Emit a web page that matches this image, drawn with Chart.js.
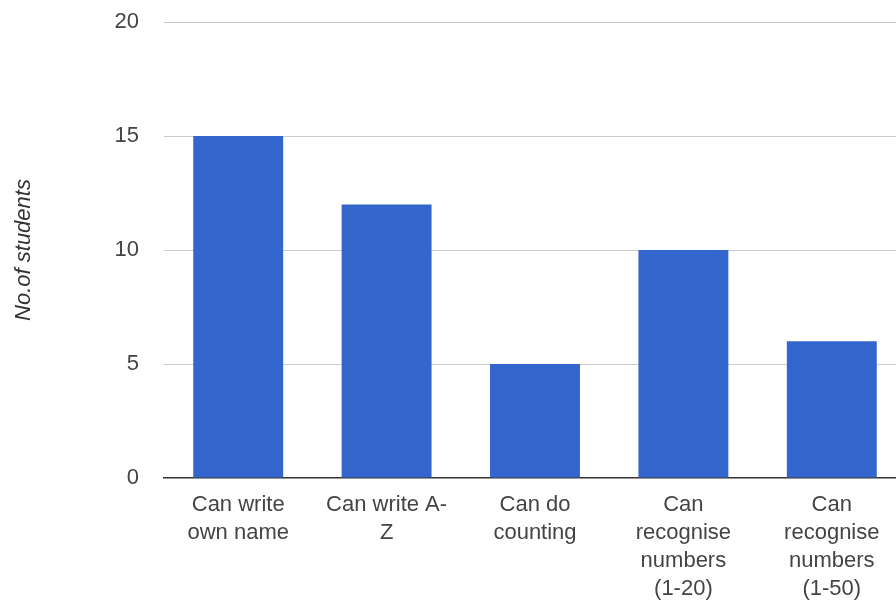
<!DOCTYPE html>
<html>
<head>
<meta charset="utf-8">
<script src="https://cdn.jsdelivr.net/npm/chart.js@4/dist/chart.umd.min.js"></script>
<style>
  html, body { margin: 0; padding: 0; background: #fff; overflow: hidden; }
  #wrap { width: 912px; height: 601px; }
</style>
</head>
<body>
<div id="wrap"><canvas id="c" width="912" height="601"></canvas></div>
<script>
const categories = [
  ["Can write", "own name"],
  ["Can write A-", "Z"],
  ["Can do", "counting"],
  ["Can", "recognise", "numbers", "(1-20)"],
  ["Can", "recognise", "numbers", "(1-50)"]
];
const students = [15, 12, 5, 10, 6];
const yTicks = [0, 5, 10, 15, 20];
const yTitle = "No.of students";

const FONT = "Arial, 'Liberation Sans', sans-serif";

new Chart(document.getElementById('c'), {
  type: 'bar',
  data: {
    labels: categories,
    datasets: [{
      data: students,
      backgroundColor: '#3366cc',
      borderWidth: 0,
      barPercentage: 0.606,
      categoryPercentage: 1.0
    }]
  },
  options: {
    responsive: false,
    devicePixelRatio: 1,
    animation: false,
    layout: { padding: { top: 22, right: 6, left: 0, bottom: 0 } },
    plugins: { legend: { display: false }, tooltip: { enabled: false } },
    scales: {
      x: {
        grid: { display: false, drawTicks: false },
        border: { display: true, color: '#333333', width: 1.5 },
        ticks: {
          color: '#444444',
          font: { family: FONT, size: 22, lineHeight: 1.27 },
          padding: 13,
          maxRotation: 0,
          autoSkip: false
        },
        afterFit: (s) => { s.height = 123; }
      },
      y: {
        min: 0,
        max: 20,
        afterBuildTicks: (s) => { s.ticks = yTicks.map(v => ({ value: v })); },
        grid: {
          color: (ctx) => ctx.tick && ctx.tick.value === 0 ? 'rgba(0,0,0,0)' : '#cccccc',
          lineWidth: 1,
          drawTicks: false
        },
        border: { display: false },
        ticks: {
          color: '#444444',
          font: { family: FONT, size: 22 },
          padding: 25
        },
        title: {
          display: true,
          text: yTitle,
          color: '#333333',
          font: { family: FONT, size: 22, style: 'italic' },
          padding: { top: 11, bottom: 0 }
        },
        afterFit: (s) => { s.width = 164; s.paddingTop = 0; s.paddingBottom = 0; }
      }
    }
  }
});
</script>
</body>
</html>
